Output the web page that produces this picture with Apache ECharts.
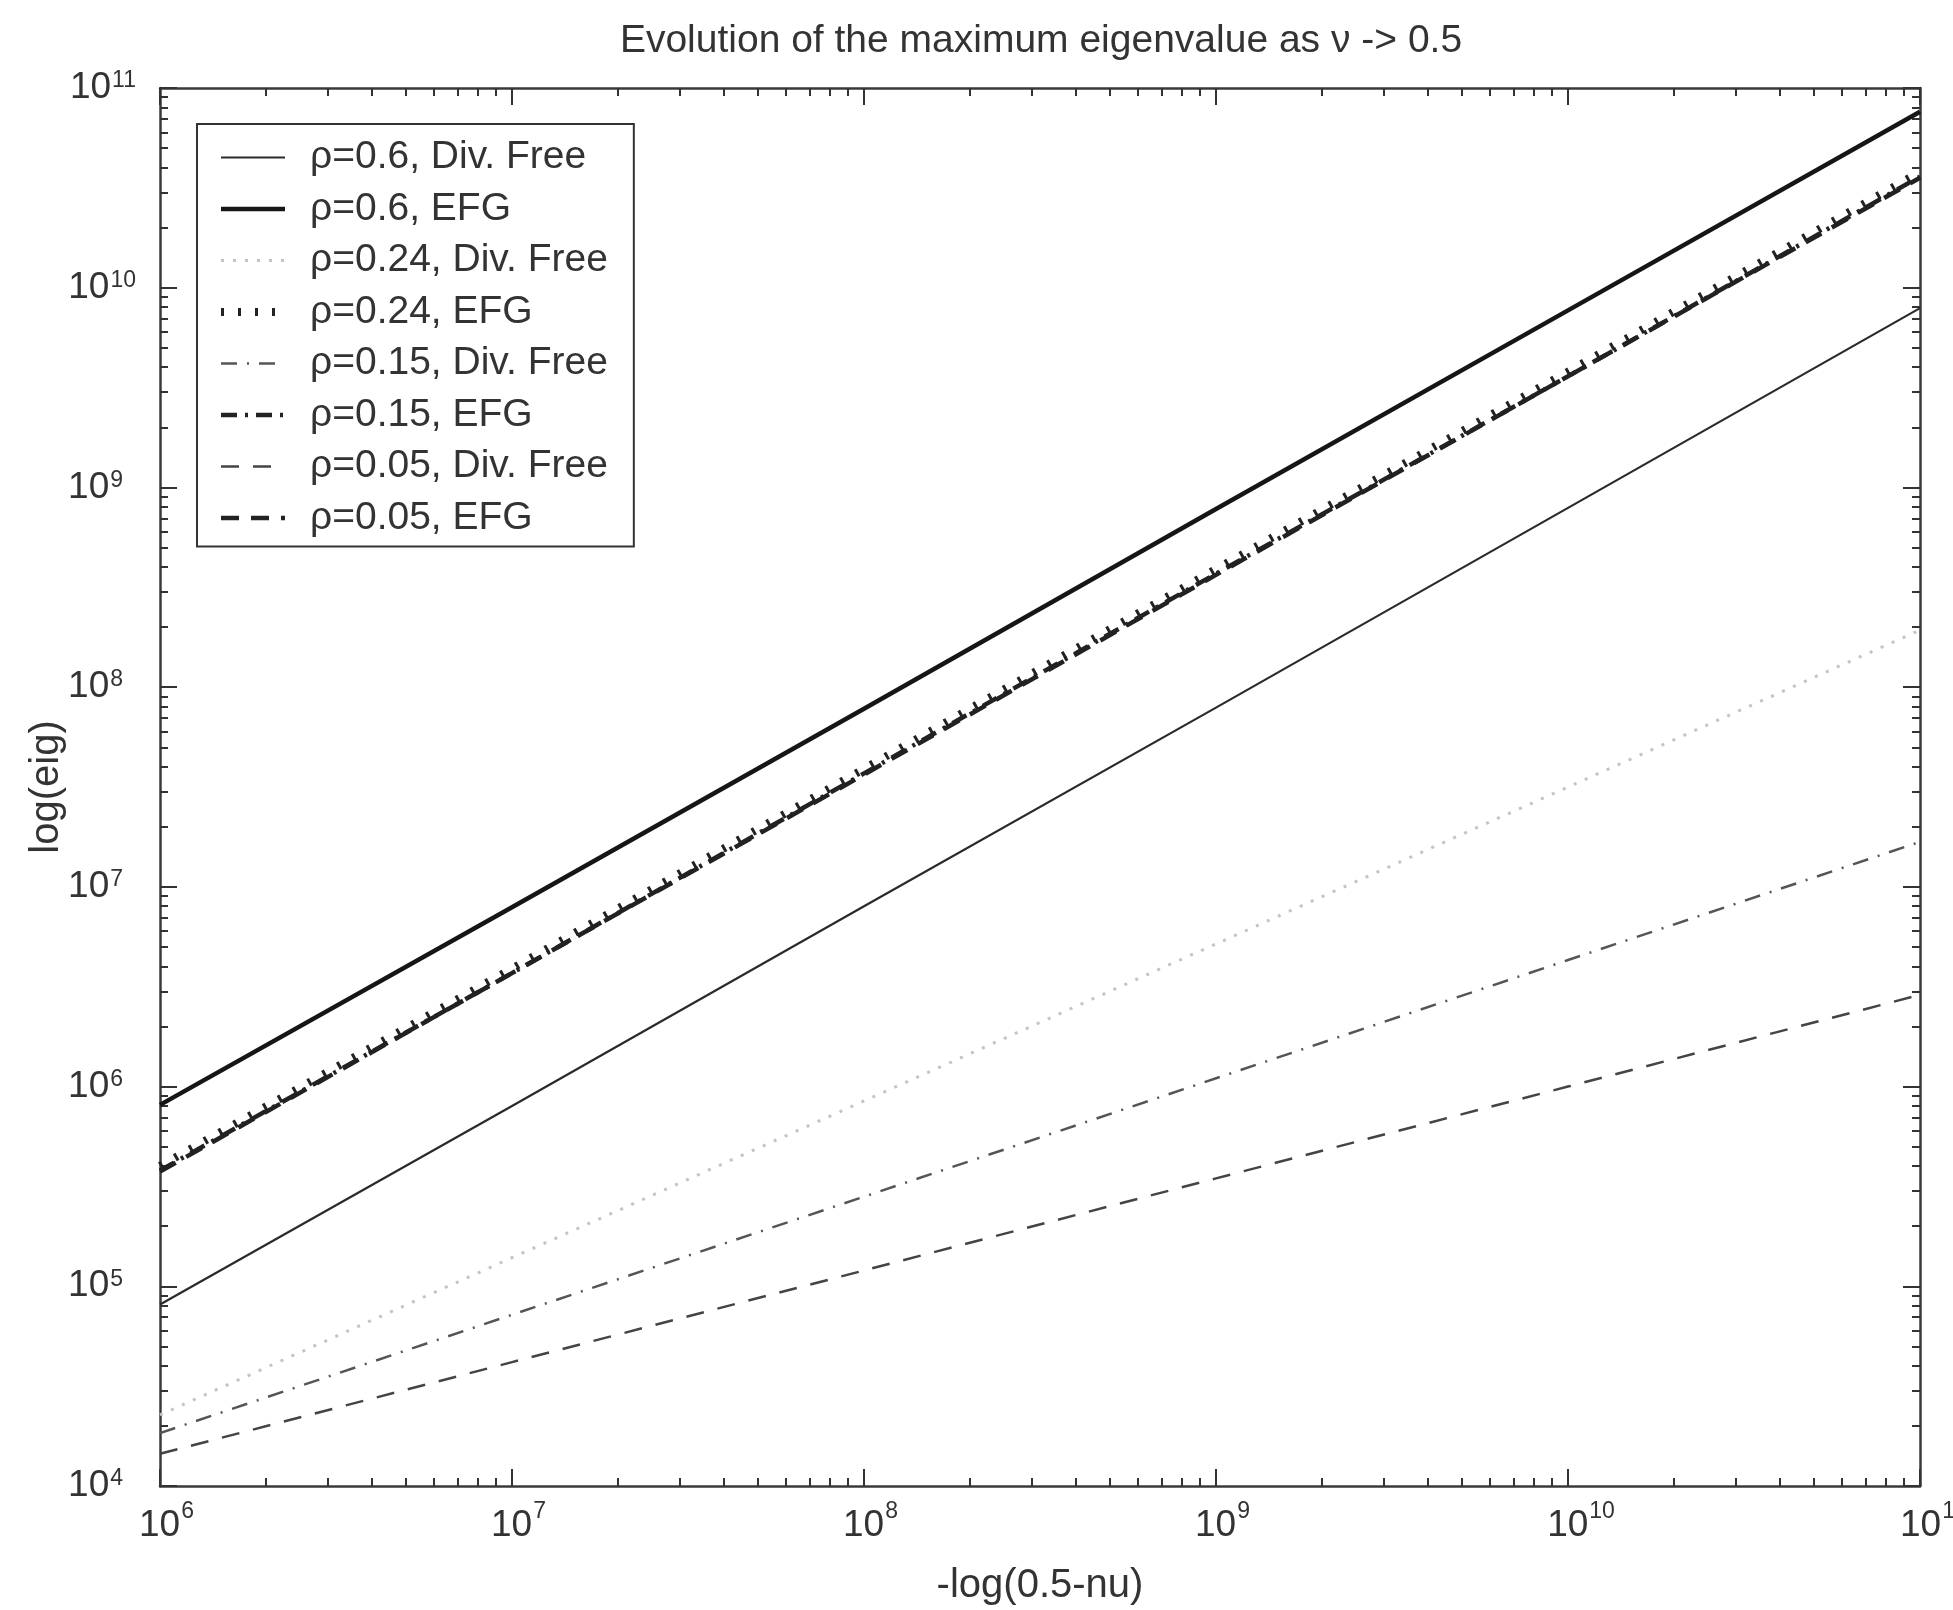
<!DOCTYPE html>
<html>
<head>
<meta charset="utf-8">
<script src="https://cdn.jsdelivr.net/npm/echarts@6/dist/echarts.min.js"></script>
<style>
html,body{margin:0;padding:0;background:#fff;}
#chart{width:1953px;height:1610px;}
</style>
</head>
<body>
<div id="chart"></div>
<script>
// x positions: -log(0.5-nu)
const xValues = [1e6, 1e7, 1e8, 1e9, 1e10, 1e11];
// series values (max eigenvalue) read at each decade
const divFree06 = [8.1e4, 8.0e5, 8.0e6, 7.9e7, 7.9e8, 7.9e9];
const efg06     = [8.1e5, 7.9e6, 7.8e7, 7.8e8, 7.7e9, 7.6e10];
const divFree024 = [2.27e4, 1.39e5, 8.47e5, 5.18e6, 3.16e7, 1.93e8];
const efg024    = [4.0e5, 3.9e6, 3.9e7, 3.9e8, 3.8e9, 3.8e10];
const divFree015 = [1.84e4, 7.2e4, 2.81e5, 1.10e6, 4.30e6, 1.68e7];
const efg015    = [3.8e5, 3.7e6, 3.7e7, 3.7e8, 3.6e9, 3.6e10];
const divFree005 = [1.45e4, 4.17e4, 1.20e5, 3.47e5, 1.00e6, 2.88e6];
const efg005    = [3.75e5, 3.7e6, 3.65e7, 3.65e8, 3.6e9, 3.55e10];
const seriesNames = [
  'ρ=0.6, Div. Free', 'ρ=0.6, EFG',
  'ρ=0.24, Div. Free', 'ρ=0.24, EFG',
  'ρ=0.15, Div. Free', 'ρ=0.15, EFG',
  'ρ=0.05, Div. Free', 'ρ=0.05, EFG'
];
const titleText = 'Evolution of the maximum eigenvalue as ν -> 0.5';
const xName = '-log(0.5-nu)';
const yName = 'log(eig)';

const FONT = '"Liberation Sans", Arial, Helvetica, sans-serif';
const pair = arr => xValues.map((x, i) => [x, arr[i]]);

const styles = [
  {color: '#2a2a2a', width: 2.2, type: 'solid'},
  {color: '#161616', width: 4.5, type: 'solid'},
  {color: '#c4c4c4', width: 3, type: [3, 9]},
  {color: '#222', width: 8, type: [3, 14]},
  {color: '#555', width: 2.5, type: [16, 10, 2, 10]},
  {color: '#222', width: 4.5, type: [16, 8, 3, 8]},
  {color: '#444', width: 2.5, type: [18, 14]},
  {color: '#222', width: 4.5, type: [18, 12]}
];
const dataSets = [divFree06, efg06, divFree024, efg024, divFree015, efg015, divFree005, efg005];

const expOf = v => Math.round(Math.log10(v));
const supTok = e => (String(e).length > 1 ? '{s2|' : '{s1|') + e + '}';
const yFmt = v => '{b|10}' + supTok(expOf(v));
const xFmt = v => '{p| }{b|10}' + supTok(expOf(v));
const supBase = {fontSize: 23, fontFamily: FONT, color: '#333', lineHeight: 23, verticalAlign: 'top'};
const richLbl = {
  p: {fontSize: 22, width: 26, lineHeight: 44, verticalAlign: 'bottom'},
  b: {fontSize: 37, fontFamily: FONT, color: '#333', lineHeight: 37, verticalAlign: 'bottom'},
  s1: Object.assign({}, supBase, {padding: [0, 13, 21, 1]}),
  s2: Object.assign({}, supBase, {padding: [0, 0, 21, 1]})
};

const baseAxis = {
  type: 'log', logBase: 10,
  axisLine: {show: true, onZero: false, lineStyle: {color: '#3a3a3a', width: 2.5}},
  axisTick: {show: true, inside: true, length: 17, lineStyle: {color: '#333', width: 2}},
  minorTick: {show: true, splitNumber: 9, length: 8, lineStyle: {color: '#333', width: 2}},
  splitLine: {show: false},
  minorSplitLine: {show: false}
};

const option = {
  backgroundColor: '#fff',
  animation: false,
  title: {
    text: titleText,
    left: 1036, top: 17, textAlign: 'center',
    textStyle: {fontSize: 39, fontWeight: 'normal', color: '#333', fontFamily: FONT}
  },
  grid: {left: 160, right: 33, top: 88, bottom: 124, containLabel: false, outerBoundsMode: 'none'},
  legend: {
    orient: 'vertical',
    left: 197, top: 124,
    itemWidth: 64, itemHeight: 14, itemGap: 12.5,
    padding: [14, 26, 9, 20],
    borderColor: '#333', borderWidth: 2,
    backgroundColor: '#fff',
    itemStyle: {opacity: 0},
    textStyle: {fontSize: 39, color: '#333', fontFamily: FONT, lineHeight: 36, padding: [0, 0, 0, 20]},
    data: seriesNames.map((n, i) => ({
      name: n,
      lineStyle: {width: styles[i].width, color: styles[i].color, type: styles[i].type, cap: 'butt'}
    }))
  },
  xAxis: [
    Object.assign({}, baseAxis, {
      min: 1e6, max: 1e11, position: 'bottom',
      name: xName, nameLocation: 'middle', nameGap: 80, nameMoveOverlap: false,
      nameTextStyle: {fontSize: 40, color: '#333', fontFamily: FONT},
      axisLabel: {show: true, margin: 14, formatter: xFmt, rich: richLbl, hideOverlap: false}
    }),
    Object.assign({}, baseAxis, {
      min: 1e6, max: 1e11, position: 'top',
      axisLabel: {show: false}
    })
  ],
  yAxis: [
    Object.assign({}, baseAxis, {
      min: 1e4, max: 1e11, position: 'left',
      name: yName, nameLocation: 'middle', nameGap: 93, nameRotate: 90, nameMoveOverlap: false,
      nameTextStyle: {fontSize: 40, color: '#333', fontFamily: FONT},
      axisLabel: {show: true, margin: 24, formatter: yFmt, rich: richLbl}
    }),
    Object.assign({}, baseAxis, {
      min: 1e4, max: 1e11, position: 'right',
      axisLabel: {show: false}
    })
  ],
  series: dataSets.map((d, i) => ({
    name: seriesNames[i],
    type: 'line',
    xAxisIndex: 0, yAxisIndex: 0,
    data: pair(d),
    symbol: 'none',
    showSymbol: false,
    z: 10 - i,
    lineStyle: {color: styles[i].color, width: styles[i].width, type: styles[i].type, cap: 'butt'},
    itemStyle: {color: styles[i].color}
  }))
};

const chart = echarts.init(document.getElementById('chart'), null, {renderer: 'canvas'});
chart.setOption(option);
</script>
</body>
</html>
